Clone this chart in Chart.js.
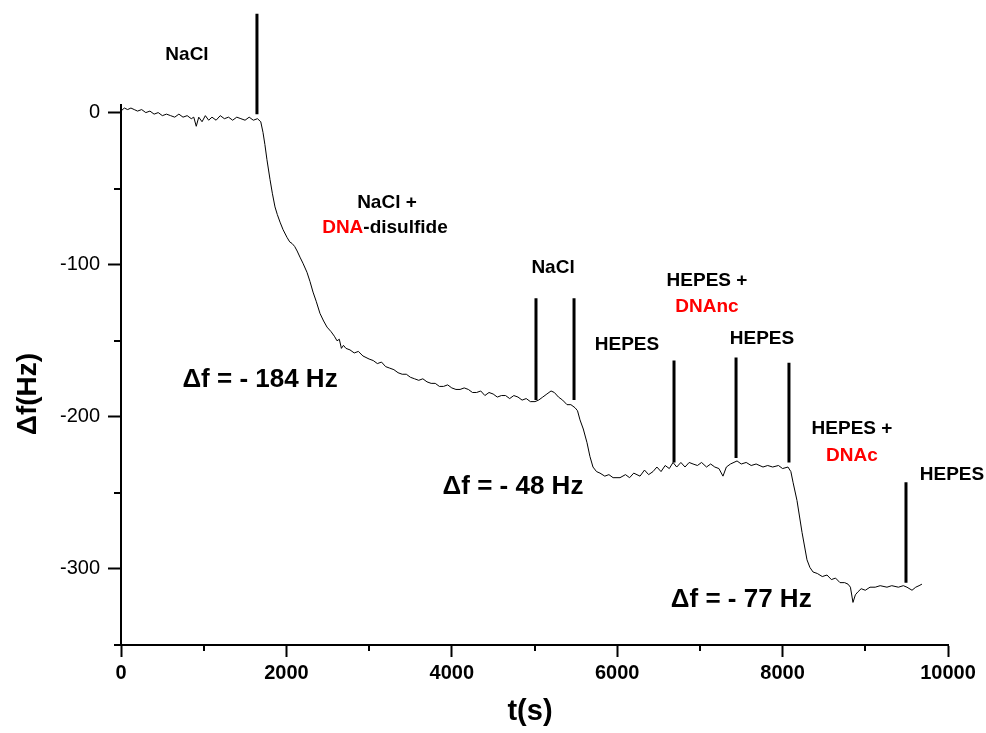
<!DOCTYPE html>
<html>
<head>
<meta charset="utf-8">
<script src="https://cdn.jsdelivr.net/npm/chart.js@4.4.1/dist/chart.umd.min.js"></script>
<style>
  html, body { margin: 0; padding: 0; background: #fff; }
</style>
</head>
<body>
<canvas id="qcm" width="986" height="733"></canvas>
<script>
// frequency shift trace
const timeS = [
  0, 40, 80, 120, 160, 200, 250, 300, 350, 400, 450, 500, 550, 600, 650, 700, 750, 800, 850, 880,
  910, 940, 980, 1020, 1060, 1100, 1150, 1200, 1250, 1300, 1350, 1400, 1450, 1500, 1550, 1600, 1650, 1690,
  1717, 1740, 1765, 1802, 1830, 1862, 1890, 1923, 1960, 2007, 2040, 2068, 2100, 2130, 2164, 2200, 2249,
  2285, 2322, 2360, 2406, 2450, 2491, 2540, 2580, 2612, 2640, 2665, 2690, 2720, 2769, 2820, 2870, 2926,
  3000, 3050, 3100, 3150, 3200, 3250, 3300, 3350, 3400, 3450, 3500, 3550, 3600, 3650, 3700, 3750, 3800,
  3850, 3900, 3950, 4000, 4050, 4100, 4150, 4200, 4250, 4300, 4350, 4400, 4450, 4500, 4550, 4600, 4650,
  4700, 4750, 4800, 4850, 4900, 4950, 5006, 5050, 5100, 5150, 5200, 5240, 5290, 5340, 5393, 5440, 5490,
  5520, 5550, 5590, 5635, 5670, 5707, 5750, 5792, 5850, 5900, 5950, 6034, 6100, 6150, 6200, 6276, 6330,
  6380, 6433, 6480, 6530, 6580, 6630, 6675, 6720, 6770, 6820, 6870, 6917, 6970, 7020, 7080, 7130, 7180,
  7230, 7279, 7320, 7370, 7449, 7500, 7560, 7620, 7680, 7763, 7820, 7880, 7950, 8000, 8065, 8100, 8126,
  8174, 8235, 8295, 8330, 8368, 8420, 8480, 8537, 8590, 8640, 8694, 8750, 8791, 8820, 8851, 8880, 8912,
  8950, 9000, 9057, 9120, 9180, 9262, 9320, 9400, 9460, 9504, 9565, 9610, 9650, 9685
];
const deltaF = [
  1, 3, 2, 3, 2, 1, 2, 0, 1, -1, 0, -2, -1, -2, -3, -1, -3, -2, -4, -3,
  -9, -3, -6, -2, -5, -3, -5, -2, -4, -3, -5, -3, -4, -5, -3, -5, -4, -6,
  -13, -21, -31, -44, -53, -62, -67, -72, -77, -82, -85, -86, -88, -91, -95, -99, -105,
  -111, -118, -124, -132, -137, -141, -144, -147, -150, -149, -155, -153, -155, -156, -158, -157, -160,
  -162, -163, -165, -164, -167, -168, -169, -171, -172, -172, -174, -175, -176, -175, -177, -178, -178,
  -180, -180, -179, -181, -182, -182, -181, -182, -184, -184, -183, -186, -184, -185, -187, -186, -186,
  -188, -186, -187, -189, -188, -190, -190, -189, -187, -185, -183, -184, -187, -189, -192, -192, -194,
  -196, -202, -208, -217, -226, -233, -236, -237, -239, -238, -240, -240, -238, -240, -237, -239, -235,
  -238, -236, -233, -236, -232, -234, -230, -233, -230, -233, -230, -231, -232, -230, -233, -231, -233,
  -234, -239, -233, -231, -229, -231, -230, -232, -231, -233, -232, -233, -232, -234, -233, -236, -243,
  -255, -276, -294, -299, -302, -303, -305, -304, -307, -306, -309, -309, -310, -312, -322, -317, -315,
  -313, -314, -312, -312, -311, -312, -311, -312, -311, -312, -314, -312, -311, -310
];

// injection markers (vertical bars)
const injectT = [1644, 5018, 5478, 6687, 7437, 8077, 9492];
const injectTop = [65, -122, -122, -163, -161, -164.5, -243];
const injectBottom = [-1, -189, -189, -230, -227, -230, -309];

const xMajorTicks = [0, 2000, 4000, 6000, 8000, 10000];
const xMinorTicks = [1000, 3000, 5000, 7000, 9000];
const yMajorTicks = [-300, -200, -100, 0];
const yMinorTicks = [-350, -250, -150, -50];

const RED = '#ff0000';
// text labels placed in data coordinates
const notes = [
  { t: 798, df: 38, parts: [['NaCl', '#000']] },
  { t: 3216, df: -59, parts: [['NaCl +', '#000']] },
  { t: 3192, df: -75.7, parts: [['DNA', RED], ['-disulfide', '#000']] },
  { t: 5224, df: -102, parts: [['NaCl', '#000']] },
  { t: 7086, df: -110.5, parts: [['HEPES +', '#000']] },
  { t: 7086, df: -127.6, parts: [['DNAnc', RED]] },
  { t: 6118, df: -152.6, parts: [['HEPES', '#000']] },
  { t: 7751, df: -148.7, parts: [['HEPES', '#000']] },
  { t: 8839, df: -208, parts: [['HEPES +', '#000']] },
  { t: 8839, df: -225.7, parts: [['DNAc', RED]] },
  { t: 10048, df: -238, parts: [['HEPES', '#000']] }
];
const shifts = [
  { t: 1681, df: -175.7, text: '\u0394f = - 184 Hz' },
  { t: 4740, df: -246, text: '\u0394f = - 48 Hz' },
  { t: 7500, df: -320, text: '\u0394f = - 77 Hz' }
];

const FONT = '"Liberation Sans", Arial, sans-serif';

const overlay = {
  id: 'overlay',
  afterDraw(chart) {
    const { ctx, chartArea: area } = chart;
    const x = chart.scales.x, y = chart.scales.y;
    ctx.save();
    ctx.strokeStyle = '#000';
    ctx.lineWidth = 2;
    // minor ticks
    ctx.beginPath();
    xMinorTicks.forEach(v => {
      const px = Math.round(x.getPixelForValue(v));
      ctx.moveTo(px, area.bottom); ctx.lineTo(px, area.bottom + 6);
    });
    yMinorTicks.forEach(v => {
      const py = Math.round(y.getPixelForValue(v));
      ctx.moveTo(area.left, py); ctx.lineTo(area.left - 7, py);
    });
    ctx.stroke();

    // labels
    ctx.textBaseline = 'middle';
    ctx.textAlign = 'left';
    ctx.font = 'bold 19px ' + FONT;
    notes.forEach(n => {
      const cx = x.getPixelForValue(n.t), cy = y.getPixelForValue(n.df);
      const total = n.parts.reduce((s, p) => s + ctx.measureText(p[0]).width, 0);
      let px = cx - total / 2;
      n.parts.forEach(p => {
        ctx.fillStyle = p[1];
        ctx.fillText(p[0], px, cy);
        px += ctx.measureText(p[0]).width;
      });
    });
    ctx.textAlign = 'center';
    ctx.fillStyle = '#000';
    ctx.font = 'bold 26px ' + FONT;
    shifts.forEach(s => ctx.fillText(s.text, x.getPixelForValue(s.t), y.getPixelForValue(s.df)));

    // axis titles
    ctx.font = 'bold 29px ' + FONT;
    ctx.fillText('t(s)', 530, 712);
    ctx.translate(28, 394);
    ctx.rotate(-Math.PI / 2);
    ctx.font = 'bold 28px ' + FONT;
    ctx.fillText('\u0394f(Hz)', 0, 0);
    ctx.restore();
  }
};

new Chart(document.getElementById('qcm'), {
  type: 'line',
  data: {
    datasets: [
      {
        data: timeS.map((t, i) => ({ x: t, y: deltaF[i] })),
        borderColor: '#000',
        borderWidth: 1,
        pointRadius: 0,
        tension: 0
      },
      {
        data: injectT.flatMap((t, i) => [{ x: t, y: injectTop[i] }, { x: t, y: injectBottom[i] }, { x: t, y: null }]),
        borderColor: '#000',
        borderWidth: 3,
        pointRadius: 0,
        spanGaps: false,
        clip: false
      }
    ]
  },
  options: {
    responsive: false,
    animation: false,
    events: [],
    layout: { padding: { top: 105, right: 38, left: 0, bottom: 0 } },
    plugins: { legend: { display: false }, tooltip: { enabled: false } },
    scales: {
      x: {
        type: 'linear',
        min: 0,
        max: 10000,
        afterBuildTicks: s => { s.ticks = xMajorTicks.map(v => ({ value: v })); },
        afterFit: s => { s.height = 88; },
        ticks: {
          autoSkip: false,
          maxRotation: 0,
          padding: 4,
          color: '#000',
          font: { family: FONT, size: 20, weight: 'bold' },
          callback: v => String(v)
        },
        grid: { display: true, drawOnChartArea: false, tickLength: 12, tickWidth: 2, tickColor: '#000' },
        border: { display: true, color: '#000', width: 2 }
      },
      y: {
        type: 'linear',
        min: -350,
        max: 5,
        afterBuildTicks: s => { s.ticks = yMajorTicks.map(v => ({ value: v })); },
        afterFit: s => { s.width = 121; },
        ticks: {
          autoSkip: false,
          padding: 8,
          color: '#000',
          font: { family: FONT, size: 20 },
          callback: v => String(v)
        },
        grid: { display: true, drawOnChartArea: false, tickLength: 13, tickWidth: 2, tickColor: '#000' },
        border: { display: true, color: '#000', width: 2 }
      }
    }
  },
  plugins: [overlay]
});
</script>
</body>
</html>
